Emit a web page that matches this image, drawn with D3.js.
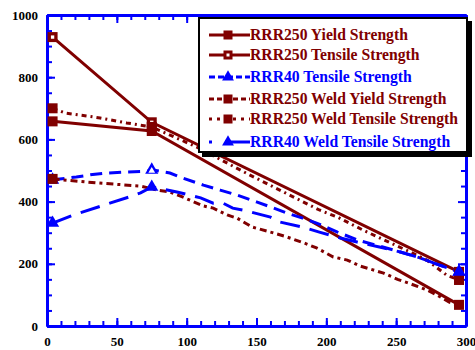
<!DOCTYPE html>
<html>
<head>
<meta charset="utf-8">
<script src="https://cdn.jsdelivr.net/npm/d3@7"></script>
<style>
  body { margin: 0; background: #fff; }
  text { font-family: "Liberation Serif", "Times New Roman", serif; font-weight: bold; }
</style>
</head>
<body>
<div id="chart-area"></div>
<script>
// temperature (x) and strength (y) per series
const yieldX = [4, 75, 295];
const yieldY = [658, 627, 68];

const tensileX = [4, 75, 295];
const tensileY = [929, 655, 174];

const rrr40X = [4, 21, 31, 43, 57, 72, 75, 88, 97, 112, 124, 136, 150, 160, 172, 183, 193, 208, 222, 238, 253, 267, 281, 295];
const rrr40Y = [470, 479, 486, 492, 495, 498, 502, 492, 476, 453, 437, 421, 399, 383, 363, 347, 331, 302, 277, 257, 238, 219, 196, 174];

const weldYieldX = [4, 36, 67, 79, 88, 97, 112, 119, 129, 136, 147, 160, 172, 184, 193, 205, 215, 224, 241, 251, 260, 272, 279, 288, 294];
const weldYieldY = [473, 460, 450, 437, 431, 415, 386, 379, 357, 347, 318, 302, 286, 267, 251, 222, 212, 193, 170, 150, 136, 116, 100, 77, 68];

const weldTensileX = [4, 13, 38, 57, 75, 107, 145, 195, 208, 226, 246, 260, 272, 286, 295];
const weldTensileY = [700, 685, 669, 653, 640, 576, 486, 373, 350, 309, 267, 238, 212, 164, 148];

const rrr40WeldX = [4, 19, 45, 59, 67, 75, 86, 93, 110, 119, 126, 133, 143, 160, 167, 183, 195, 210, 222, 238, 253, 267, 281, 295];
const rrr40WeldY = [331, 357, 395, 415, 428, 447, 437, 431, 412, 395, 395, 379, 370, 350, 334, 318, 302, 283, 270, 254, 238, 219, 196, 174];

const xTicks = [0, 50, 100, 150, 200, 250, 300];
const yTicks = [0, 200, 400, 600, 800, 1000];

const maroon = "#800000";
const blue = "#0000ff";

const series = [
  { name: "RRR250 Yield Strength", xs: yieldX, ys: yieldY, color: maroon, dash: null, marker: "square", legendDash: null },
  { name: "RRR250 Tensile Strength", xs: tensileX, ys: tensileY, color: maroon, dash: null, marker: "squareOpen", legendDash: null },
  { name: "RRR40 Tensile Strength", xs: rrr40X, ys: rrr40Y, color: blue, dash: "12,7", marker: "triangleOpen", legendDash: "6,3" },
  { name: "RRR250 Weld Yield Strength", xs: weldYieldX, ys: weldYieldY, color: maroon, dash: "7,4,3,4", marker: "square", legendDash: "5,3" },
  { name: "RRR250 Weld Tensile Strength", xs: weldTensileX, ys: weldTensileY, color: maroon, dash: "5,4,2,4", marker: "square", legendDash: "3,5" },
  { name: "RRR40 Weld Tensile Strength", xs: rrr40WeldX, ys: rrr40WeldY, color: blue, dash: "20,10", marker: "triangle", legendDash: "3,13,40" }
];
const markerX = [4, 75, 295];

const width = 475, height = 350;
const margin = { left: 47, right: 9, top: 15, bottom: 24 };

const svg = d3.select("#chart-area")
  .append("svg")
    .attr("width", width)
    .attr("height", height);

const x = d3.scaleLinear().domain([0, 300]).range([margin.left, width - margin.right]);
const y = d3.scaleLinear().domain([0, 1000]).range([height - margin.bottom, margin.top]);

// axes: minor ticks first, then major ticks with labels
function styleAxis(g) {
  g.select(".domain").attr("stroke", blue).attr("stroke-width", 3);
  g.selectAll(".tick line").attr("stroke", blue).attr("stroke-width", 2);
  g.selectAll(".tick text").attr("fill", "#000").attr("font-size", "13px")
    .attr("font-family", "'Liberation Serif', 'Times New Roman', serif").attr("font-weight", "bold");
}

const minorX = d3.range(0, 301, 10);
const minorY = d3.range(0, 1001, 50);

const bottomY = y(0), topY = y(1000), leftX = x(0), rightX = x(300);

svg.append("g").attr("transform", "translate(0," + bottomY + ")")
  .call(d3.axisBottom(x).tickValues(minorX).tickSize(-5).tickSizeOuter(0).tickFormat(""))
  .call(styleAxis);
svg.append("g").attr("transform", "translate(0," + bottomY + ")")
  .call(d3.axisBottom(x).tickValues(xTicks).tickSize(-8).tickSizeOuter(0).tickPadding(11).tickFormat(d3.format("d")))
  .call(styleAxis);
svg.append("g").attr("transform", "translate(0," + topY + ")")
  .call(d3.axisTop(x).tickValues(minorX).tickSize(-5).tickSizeOuter(0).tickFormat(""))
  .call(styleAxis);
svg.append("g").attr("transform", "translate(0," + topY + ")")
  .call(d3.axisTop(x).tickValues(xTicks).tickSize(-8).tickSizeOuter(0).tickFormat(""))
  .call(styleAxis);

svg.append("g").attr("transform", "translate(" + leftX + ",0)")
  .call(d3.axisLeft(y).tickValues(minorY).tickSize(-5).tickSizeOuter(0).tickFormat(""))
  .call(styleAxis);
svg.append("g").attr("transform", "translate(" + leftX + ",0)")
  .call(d3.axisLeft(y).tickValues(yTicks).tickSize(-8).tickSizeOuter(0).tickPadding(9).tickFormat(d3.format("d")))
  .call(styleAxis);
svg.append("g").attr("transform", "translate(" + rightX + ",0)")
  .call(d3.axisRight(y).tickValues(minorY).tickSize(-5).tickSizeOuter(0).tickFormat(""))
  .call(styleAxis);
svg.append("g").attr("transform", "translate(" + rightX + ",0)")
  .call(d3.axisRight(y).tickValues(yTicks).tickSize(-8).tickSizeOuter(0).tickFormat(""))
  .call(styleAxis);

// lines
const line = d3.line().x(d => x(d[0])).y(d => y(d[1]));

svg.append("clipPath").attr("id", "plot-clip")
  .append("rect").attr("x", leftX).attr("y", topY).attr("width", rightX - leftX).attr("height", bottomY - topY);

const plot = svg.append("g").attr("clip-path", "url(#plot-clip)");

series.forEach(s => {
  const pts = s.xs.map((v, i) => [v, s.ys[i]]);
  plot.append("path")
    .datum(pts)
    .attr("d", line)
    .attr("fill", "none")
    .attr("stroke", s.color)
    .attr("stroke-width", 3)
    .attr("stroke-dasharray", s.dash);
});

function drawMarker(g, type, cx, cy, color, size) {
  if (type === "triangle" || type === "triangleOpen") {
    g.append("path")
      .attr("d", d3.symbol().type(d3.symbolTriangle).size(size * size * 0.75)())
      .attr("transform", "translate(" + cx + "," + cy + ")")
      .attr("fill", color);
    if (type === "triangleOpen") {
      g.append("path")
        .attr("d", d3.symbol().type(d3.symbolTriangle).size(size * size * 0.2)())
        .attr("transform", "translate(" + cx + "," + (cy + 1) + ")")
        .attr("fill", "#fff");
    }
  } else {
    g.append("rect")
      .attr("x", cx - size / 2).attr("y", cy - size / 2)
      .attr("width", size).attr("height", size)
      .attr("fill", color);
    if (type === "squareOpen") {
      g.append("rect")
        .attr("x", cx - size / 6).attr("y", cy - size / 6)
        .attr("width", size / 3).attr("height", size / 3)
        .attr("fill", "#fff");
    }
  }
}

const markers = svg.append("g");
series.forEach(s => {
  s.xs.forEach((v, i) => {
    if (markerX.indexOf(v) >= 0) {
      drawMarker(markers, s.marker, x(v), y(s.ys[i]), s.color, 10);
    }
  });
});

// legend
const lg = svg.append("g").attr("transform", "translate(199,18)");
lg.append("rect").attr("x", 3).attr("y", 3).attr("width", 270).attr("height", 136).attr("fill", "#000");
lg.append("rect").attr("x", 0).attr("y", 0).attr("width", 268).attr("height", 134)
  .attr("fill", "#fff").attr("stroke", "#000").attr("stroke-width", 2);

const rowY = [17, 37, 59, 81, 101, 124];
const texts = [];
series.forEach((s, i) => {
  const ry = rowY[i];
  lg.append("line")
    .attr("x1", 10).attr("x2", 51).attr("y1", ry).attr("y2", ry)
    .attr("stroke", s.color).attr("stroke-width", 3)
    .attr("stroke-dasharray", s.legendDash);
  drawMarker(lg, s.marker === "triangleOpen" ? "triangle" : s.marker, 29, ry, s.color, 9);
  texts.push(lg.append("text")
    .attr("x", 51).attr("y", ry + 5)
    .attr("font-size", "14px")
    .attr("fill", s.color)
    .text(s.name));
});
// size legend text so the first entry spans about 158px like the original
const w0 = texts[0].node().getComputedTextLength();
const fs = Math.min(17, 14 * 158 / w0);
texts.forEach(t => t.attr("font-size", fs + "px"));
</script>
</body>
</html>
